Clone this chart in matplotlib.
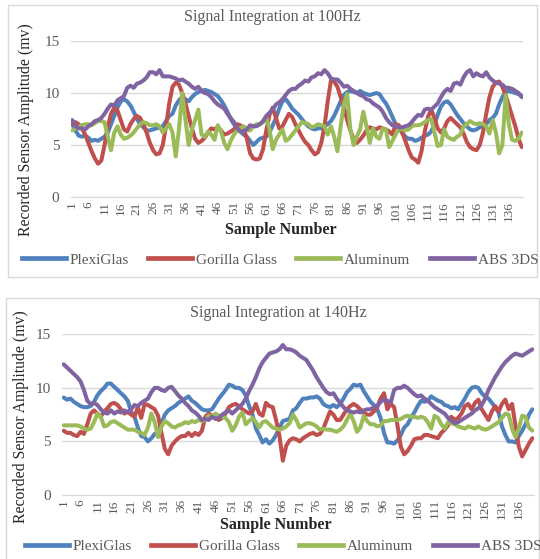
import numpy as np
import matplotlib
matplotlib.use("Agg")
import matplotlib.pyplot as plt
from matplotlib.patches import Rectangle
from matplotlib.lines import Line2D

plt.rcParams['font.family'] = ['Liberation Serif', 'DejaVu Serif']

samples = list(range(1, 141))
tick_labels = [str(s) for s in range(1, 141, 5)]
series_names = ["PlexiGlas", "Gorilla Glass", "Aluminum", "ABS 3DS"]
colors = ["#4F81BD", "#C0504D", "#9BBB59", "#8064A2"]

# ---------------- 100 Hz ----------------
plexi_100 = [7.0, 6.4, 5.9, 5.8, 5.9, 5.7, 5.4, 5.5, 5.4, 5.6,
             5.8, 6.2, 7.0, 7.8, 8.6, 9.2, 9.4, 9.2, 8.8, 8.2,
             7.5, 7.0, 6.7, 6.4, 6.4, 6.5, 6.6, 6.7, 6.8, 7.3,
             7.8, 8.0, 8.8, 9.3, 9.6, 9.4, 9.2, 9.6, 9.9, 10.1,
             10.2, 10.3, 10.2, 10.1, 9.9, 9.7, 9.3, 8.8, 8.2, 7.5,
             7.0, 6.6, 6.3, 6.0, 5.8, 5.4, 5.0, 5.3, 5.6, 5.7,
             5.8, 6.2, 6.9, 7.6, 8.5, 9.2, 9.4, 9.0, 8.5, 8.2,
             7.9, 7.5, 7.1, 6.8, 6.6, 6.5, 6.6, 6.6, 6.8, 7.0,
             7.3, 7.8, 8.5, 9.2, 9.8, 10.1, 10.2, 10.1, 10.0, 10.2,
             10.0, 9.9, 9.8, 9.9, 10.0, 9.9, 9.4, 9.0, 8.4, 7.7,
             7.0, 6.6, 6.2, 5.8, 5.6, 5.6, 5.4, 5.5, 5.7, 5.9,
             6.0, 6.3, 7.0, 7.9, 8.7, 9.1, 9.2, 8.9, 8.4, 7.9,
             7.5, 7.1, 6.8, 6.5, 6.4, 6.5, 6.7, 6.8, 7.0, 7.4,
             7.6, 8.0, 8.9, 9.6, 10.1, 10.2, 10.1, 10.0, 9.9, 9.7]
gorilla_100 = [7.0, 7.2, 7.0, 6.6, 6.0, 5.2, 4.4, 3.7, 3.2, 3.5,
               5.0, 6.8, 8.0, 8.6, 8.3, 7.4, 6.5, 6.3, 7.0, 7.5,
               7.8, 7.6, 7.0, 6.2, 5.2, 4.5, 4.1, 4.2, 5.0, 6.8,
               9.0, 10.6, 11.0, 10.8, 10.0, 9.0, 7.8, 6.6, 5.6, 5.2,
               5.4, 5.7, 6.2, 6.6, 6.5, 6.7, 6.4, 6.0, 6.1, 6.3,
               6.5, 7.0, 6.9, 6.6, 5.6, 4.2, 3.7, 3.6, 3.7, 4.6,
               6.4, 7.9, 8.6, 7.6, 6.6, 6.8, 7.4, 8.0, 7.7, 7.0,
               6.4, 5.8, 5.3, 5.0, 4.5, 4.1, 4.3, 5.2, 6.8, 9.2,
               11.2, 11.1, 10.6, 9.6, 8.6, 7.4, 6.4, 5.6, 5.2, 5.5,
               5.9, 6.4, 6.7, 6.6, 6.5, 6.7, 6.6, 6.5, 6.3, 6.0,
               7.0, 6.9, 6.2, 5.4, 4.5, 3.8, 3.6, 3.3, 4.4, 6.3,
               7.7, 8.4, 7.6, 6.6, 6.2, 6.6, 7.3, 7.6, 7.3, 7.0,
               6.7, 6.1, 5.3, 4.8, 4.6, 4.5, 5.0, 6.2, 8.0, 9.6,
               10.6, 11.0, 11.1, 10.6, 9.8, 8.8, 7.8, 6.8, 5.6, 4.8]
alum_100 = [6.4, 6.6, 6.7, 6.9, 7.0, 7.0, 6.9, 7.1, 7.3, 7.3,
            7.2, 5.8, 4.5, 6.2, 6.8, 6.0, 5.6, 5.7, 5.9, 6.2,
            6.6, 7.0, 7.2, 7.1, 6.9, 6.9, 7.0, 6.8, 6.2, 6.6,
            7.0, 6.2, 3.9, 6.5, 10.0, 7.5, 5.0, 6.5, 7.4, 8.4,
            6.0, 5.8, 6.3, 6.0, 5.5, 6.9, 6.3, 5.2, 4.6, 5.4,
            6.0, 6.4, 6.6, 6.8, 6.5, 6.4, 6.8, 7.0, 7.0, 7.2,
            7.6, 6.5, 4.6, 5.5, 6.0, 6.5, 5.4, 5.6, 6.0, 6.4,
            6.8, 7.2, 7.1, 7.0, 6.7, 6.8, 7.0, 6.9, 6.8, 6.0,
            6.8, 5.8, 4.4, 6.8, 9.0, 9.9, 6.5, 5.0, 5.8, 6.5,
            8.2, 6.8, 5.2, 6.6, 5.8, 5.6, 6.6, 6.5, 4.8, 5.4,
            6.0, 6.6, 6.5, 6.4, 6.5, 6.8, 6.9, 6.9, 7.0, 7.2,
            7.4, 7.5, 6.2, 4.9, 5.0, 6.5, 5.8, 5.6, 5.5, 5.8,
            6.0, 6.8, 7.0, 7.3, 7.1, 7.0, 7.1, 7.0, 6.8, 6.1,
            7.4, 6.2, 4.2, 5.0, 9.8, 7.0, 5.5, 5.4, 5.6, 6.2]
abs_100 = [7.4, 6.8, 6.6, 6.6, 6.5, 6.8, 7.0, 7.3, 7.4, 7.6,
           8.0, 8.5, 8.9, 8.8, 9.3, 9.5, 9.7, 10.5, 10.7, 10.5,
           10.9, 11.0, 11.2, 11.5, 12.0, 12.0, 11.8, 12.2, 11.6, 11.6,
           11.6, 11.5, 11.4, 11.2, 11.3, 11.1, 10.9, 10.6, 10.4, 10.6,
           10.2, 10.0, 9.9, 9.6, 9.2, 8.9, 8.7, 8.5, 8.0, 7.6,
           7.2, 6.6, 6.3, 6.3, 6.5, 6.9, 6.8, 6.8, 7.0, 7.3,
           7.8, 8.1, 8.4, 8.9, 9.1, 9.4, 9.8, 10.2, 10.4, 10.4,
           10.7, 10.9, 11.2, 11.1, 11.5, 11.6, 11.9, 11.8, 12.2, 11.9,
           11.4, 11.3, 11.3, 11.0, 10.6, 10.7, 10.4, 10.2, 10.0, 9.8,
           9.7, 9.4, 9.3, 9.0, 8.8, 8.6, 8.2, 7.6, 7.2, 6.9,
           6.8, 6.7, 6.7, 6.8, 6.9, 7.2, 7.6, 7.9, 7.8, 8.4,
           8.5, 8.4, 8.7, 9.0, 9.6, 10.1, 10.4, 10.2, 10.9, 11.0,
           10.8, 11.5, 12.0, 12.2, 11.6, 11.9, 11.7, 11.6, 12.0, 11.5,
           11.2, 11.0, 10.9, 10.8, 10.5, 10.5, 10.4, 10.2, 10.0, 9.6]

# ---------------- 140 Hz ----------------
plexi_140 = [9.1, 8.9, 9.0, 8.7, 8.5, 8.3, 8.2, 8.2, 8.3, 8.7,
             9.3, 9.7, 10.0, 10.4, 10.4, 10.1, 9.8, 9.5, 9.2, 8.8,
             7.8, 7.3, 6.3, 5.5, 5.4, 5.0, 5.3, 5.7, 5.8, 6.7,
             7.5, 7.9, 8.1, 8.3, 8.6, 8.8, 9.0, 9.2, 8.8, 8.6,
             8.3, 8.0, 7.9, 7.9, 8.0, 8.5, 9.0, 9.4, 9.8, 10.3,
             10.2, 10.0, 10.0, 9.8, 9.3, 8.3, 7.5, 6.2, 5.6, 4.9,
             5.2, 4.8, 5.1, 5.6, 6.3, 6.9, 7.0, 7.1, 7.9, 8.1,
             8.6, 9.0, 9.0, 9.1, 9.1, 9.2, 9.0, 8.5, 8.3, 8.2,
             8.4, 8.2, 8.5, 9.0, 9.6, 9.9, 10.3, 10.2, 10.3, 9.7,
             9.2, 8.7, 8.4, 8.0, 7.2, 5.8, 4.9, 4.9, 4.8, 5.1,
             5.6, 6.3, 6.6, 7.2, 7.7, 8.3, 8.8, 8.7, 8.8, 9.2,
             9.0, 8.8, 8.7, 8.4, 8.3, 8.1, 8.2, 8.0, 8.5, 9.0,
             9.6, 10.0, 10.1, 10.0, 9.5, 9.2, 9.0, 8.6, 8.2, 7.7,
             6.4, 5.6, 5.0, 5.0, 4.9, 5.5, 6.0, 6.6, 7.5, 8.0]
gorilla_140 = [6.0, 5.8, 5.8, 5.6, 5.5, 5.9, 5.7, 6.6, 7.6, 7.9,
               7.6, 7.3, 7.8, 8.1, 8.5, 8.6, 8.4, 8.0, 7.6, 7.8,
               7.5, 7.3, 8.2, 7.2, 8.5, 8.4, 8.2, 8.0, 7.4, 5.8,
               4.3, 3.8, 4.6, 5.0, 5.3, 5.5, 5.5, 5.8, 5.5, 5.8,
               5.6, 6.0, 7.3, 7.6, 7.4, 7.2, 7.0, 7.2, 7.6, 8.2,
               8.4, 8.5, 8.3, 8.0, 7.8, 7.6, 7.8, 8.5, 7.6, 7.4,
               8.6, 8.3, 8.2, 7.0, 5.5, 3.2, 4.6, 5.1, 5.3, 5.2,
               5.0, 5.3, 5.5, 5.7, 5.8, 5.6, 5.7, 6.2, 7.0, 7.8,
               7.5, 7.0, 7.0, 7.5, 8.0, 8.3, 8.5, 8.3, 8.0, 7.7,
               7.5, 7.5, 7.8, 8.2, 9.0, 9.5, 8.0, 8.5, 8.2, 6.5,
               4.5, 3.8, 4.1, 4.6, 5.2, 5.3, 5.3, 5.6, 5.6, 5.5,
               5.4, 5.3, 5.8, 6.1, 6.5, 7.3, 7.0, 7.2, 7.6, 8.3,
               8.5, 8.0, 8.6, 8.9, 8.0, 7.5, 7.0, 7.8, 8.3, 7.8,
               8.5, 8.9, 8.0, 8.5, 6.5, 4.5, 3.6, 4.2, 4.8, 5.3]
alum_140 = [6.5, 6.5, 6.5, 6.5, 6.5, 6.4, 6.2, 6.1, 6.2, 6.8,
            7.6, 7.3, 6.4, 6.5, 6.8, 6.9, 6.7, 6.5, 6.3, 6.1,
            6.1, 6.1, 5.9, 5.8, 5.6, 6.3, 7.6, 6.8, 5.4, 6.4,
            6.9, 6.7, 6.4, 6.3, 6.5, 6.6, 6.8, 6.7, 6.9, 6.8,
            7.0, 6.9, 7.0, 7.4, 7.3, 7.6, 7.4, 7.3, 7.2, 6.8,
            6.0, 6.5, 7.3, 7.7, 6.6, 6.9, 7.2, 6.8, 6.3, 6.8,
            6.9, 6.6, 6.3, 6.2, 6.1, 6.2, 6.4, 6.7, 7.5, 7.0,
            6.3, 6.5, 6.7, 6.7, 6.6, 6.4, 6.1, 6.2, 6.1, 6.1,
            6.0, 5.9, 6.1, 6.4, 7.0, 7.6, 6.9, 5.9, 6.3, 7.4,
            6.9, 6.6, 6.6, 6.4, 6.5, 6.9, 6.9, 7.0, 7.0, 7.0,
            7.1, 7.3, 7.4, 7.3, 7.3, 7.2, 7.3, 7.2, 6.8, 6.2,
            7.4, 7.2, 6.6, 6.2, 6.8, 6.7, 6.6, 6.4, 6.3, 6.2,
            6.4, 6.3, 6.2, 6.4, 6.2, 6.1, 6.2, 6.4, 6.6, 6.8,
            7.2, 7.6, 7.5, 6.2, 5.4, 6.2, 7.4, 7.3, 6.3, 6.0]
abs_140 = [12.2, 11.9, 11.6, 11.3, 11.0, 10.6, 9.8, 8.8, 8.5, 8.6,
           8.4, 8.0, 7.7, 7.6, 7.9, 7.6, 7.8, 7.7, 7.9, 7.7,
           8.0, 8.4, 8.3, 8.6, 8.8, 9.0, 9.6, 10.0, 10.0, 9.8,
           9.7, 10.0, 10.1, 9.7, 9.3, 9.0, 8.6, 8.3, 7.9, 7.7,
           7.4, 7.0, 7.1, 7.0, 7.3, 7.1, 7.2, 7.5, 7.7, 7.9,
           7.6, 7.9, 8.2, 8.5, 9.0, 9.7, 10.3, 11.0, 11.8, 12.4,
           12.8, 13.2, 13.3, 13.4, 13.6, 14.0, 13.6, 13.6, 13.5, 13.3,
           13.0, 12.8, 12.6, 12.1, 11.6, 11.0, 10.5, 10.0, 9.6, 9.4,
           9.5, 9.0, 8.6, 8.2, 7.9, 7.8, 7.7, 7.8, 7.7, 7.9,
           8.0, 8.0, 8.2, 8.3, 8.7, 8.9, 8.8, 8.6, 9.8, 10.0,
           10.0, 10.2, 10.0, 9.7, 9.4, 9.2, 9.3, 9.0, 8.8, 8.5,
           8.2, 8.0, 7.8, 7.6, 7.2, 6.9, 6.7, 6.8, 7.0, 7.2,
           7.4, 7.6, 7.9, 8.1, 8.4, 9.0, 9.8, 10.4, 11.0, 11.5,
           12.0, 12.4, 12.7, 13.0, 13.2, 13.1, 13.0, 13.2, 13.4, 13.6]

W, H = 540, 559
fig = plt.figure(figsize=(W / 100, H / 100), dpi=100)

def fx(px):
    return px / W

def fy(py):
    return 1 - py / H

grid_c = "#D9D9D9"
txt_c = "#595959"

# chart borders
fig.add_artist(Rectangle((fx(8), fy(277)), fx(529), 272 / H, transform=fig.transFigure,
                         fill=False, edgecolor=grid_c, lw=1))
fig.add_artist(Rectangle((fx(6), fy(575)), fx(533), 277 / H, transform=fig.transFigure,
                         fill=False, edgecolor=grid_c, lw=1))

def draw(ax_rect, data, title, title_xy, ylab_xy, xlab_xy, leg_x, leg_y):
    ax = fig.add_axes(ax_rect)
    for vals, c in zip(data, colors):
        ax.plot(samples, vals, color=c, lw=2.9, solid_joinstyle="round", solid_capstyle="round")
    ax.set_xlim(0.5, 140.5)
    ax.set_ylim(0, 15)
    ax.set_yticks([0, 5, 10, 15])
    ax.set_yticklabels(["0", "5", "10", "15"], color=txt_c, fontsize=11)
    ax.set_xticks(list(range(1, 141, 5)))
    ax.set_xticklabels(tick_labels, rotation=90, color=txt_c, fontsize=9.5)
    ax.tick_params(axis="y", length=0, pad=8)
    ax.tick_params(axis="x", length=0, pad=3)
    ax.grid(axis="y", color=grid_c, lw=1)
    ax.set_axisbelow(True)
    for s in ["top", "right", "left"]:
        ax.spines[s].set_visible(False)
    ax.spines["bottom"].set_color(grid_c)
    ax.patch.set_alpha(0)
    fig.text(fx(title_xy[0]), fy(title_xy[1]), title, ha="center", va="center",
             fontsize=11.5, color=txt_c)
    fig.text(fx(ylab_xy[0]), fy(ylab_xy[1]), "Recorded Sensor Amplitude (mv)", rotation=90,
             ha="center", va="center", fontsize=11.3, color="#262626")
    fig.text(fx(xlab_xy[0]), fy(xlab_xy[1]), "Sample Number", ha="center", va="center",
             fontsize=11.5, fontweight="bold", color="#262626")
    handles = [Line2D([], [], color=c, lw=3.4) for c in colors]
    fig.legend(handles, series_names, loc="center", bbox_to_anchor=(fx(leg_x), fy(leg_y)),
               ncol=4, frameon=False, fontsize=11, handlelength=2.9, handletextpad=0.25,
               columnspacing=1.25, labelcolor=txt_c, borderpad=0, borderaxespad=0)
    return ax

draw([fx(70.6), fy(197), fx(452.8), 156 / H],
     [plexi_100, gorilla_100, alum_100, abs_100],
     "Signal Integration at 100Hz", (272, 17), (26, 130), (281, 230), 280, 260)
draw([fx(62), fy(495), fx(472), 160.7 / H],
     [plexi_140, gorilla_140, alum_140, abs_140],
     "Signal Integration at 140Hz", (278, 313), (21, 417), (276, 525), 283, 546)

fig.savefig("out.png", dpi=100)
